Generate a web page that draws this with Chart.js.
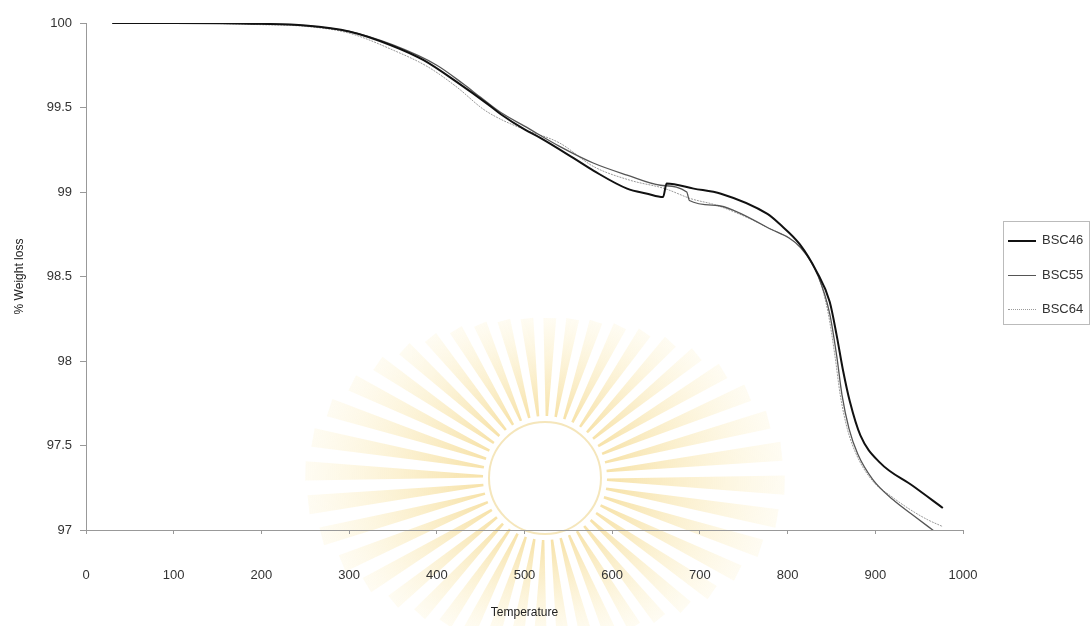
<!DOCTYPE html>
<html>
<head>
<meta charset="utf-8">
<script src="https://cdn.jsdelivr.net/npm/chart.js@4/dist/chart.umd.min.js"></script>
<style>
html, body { margin: 0; padding: 0; background: #fff; }
#contenedor { position: relative; width: 1092px; height: 626px; }
#leyenda { position: absolute; left: 1003px; top: 221px; width: 87px; height: 104px; border: 1px solid #bbb; box-sizing: border-box; font-family: "Liberation Sans", Arial, sans-serif; font-size: 13px; color: #333; }
#leyenda ul { list-style: none; margin: 0; padding: 0; }
#leyenda li { position: absolute; left: 4px; height: 16px; line-height: 16px; white-space: nowrap; }
#leyenda li span { display: inline-block; width: 28px; height: 0; vertical-align: middle; margin-right: 6px; }
</style>
</head>
<body>
<div id="contenedor">
  <canvas id="grafica" width="1092" height="626"></canvas>
  <div id="leyenda"></div>
</div>
<script>
var series = ["BSC46", "BSC55", "BSC64"];

var temp46 = [30, 100, 200, 250, 300, 347, 385, 423, 458, 473, 500, 518, 556, 579, 617, 640, 658, 662, 693, 724, 777, 791, 814, 833, 848, 856, 863, 871, 883, 905, 943, 977];
var bsc46 = [100, 100, 99.995, 99.985, 99.95, 99.87, 99.78, 99.65, 99.52, 99.46, 99.37, 99.32, 99.2, 99.125, 99.02, 98.99, 98.97, 99.05, 99.02, 98.99, 98.87, 98.81, 98.69, 98.53, 98.35, 98.15, 97.95, 97.76, 97.56, 97.4, 97.26, 97.13];

var temp55 = [30, 100, 200, 250, 300, 350, 400, 430, 450, 473, 500, 540, 579, 617, 655, 685, 688, 720, 739, 777, 815, 835, 848, 856, 862, 870, 880, 897, 920, 945, 968];
var bsc55 = [100, 100, 99.995, 99.985, 99.95, 99.87, 99.75, 99.64, 99.56, 99.47, 99.39, 99.27, 99.17, 99.1, 99.04, 99.0, 98.95, 98.92, 98.89, 98.79, 98.67, 98.5, 98.28, 98.03, 97.8, 97.6, 97.45, 97.3, 97.18, 97.08, 96.99];

var temp64 = [30, 100, 200, 250, 300, 350, 390, 423, 453, 473, 500, 540, 579, 620, 660, 690, 720, 777, 815, 835, 846, 854, 860, 868, 879, 897, 918, 940, 960, 977];
var bsc64 = [100, 100, 99.99, 99.98, 99.94, 99.84, 99.74, 99.62, 99.49, 99.43, 99.37, 99.29, 99.15, 99.07, 99.02, 98.96, 98.92, 98.79, 98.67, 98.5, 98.29, 98.03, 97.8, 97.6, 97.44, 97.29, 97.2, 97.12, 97.06, 97.02];

var xTicks = [0, 100, 200, 300, 400, 500, 600, 700, 800, 900, 1000];
var yTicks = [97, 97.5, 98, 98.5, 99, 99.5, 100];

function puntos(xs, ys) {
    var p = [];
    for (var i = 0; i < xs.length; i++) p.push({ x: xs[i], y: ys[i] });
    return p;
}

var estilos = [
    { color: "#111", ancho: 2, dash: [] },
    { color: "#555", ancho: 1.3, dash: [] },
    { color: "#9a9a9a", ancho: 1, dash: [2, 1] }
];
var datos = [puntos(temp46, bsc46), puntos(temp55, bsc55), puntos(temp64, bsc64)];

var conjuntos = series.map(function (nombre, i) {
    return {
        label: nombre,
        data: datos[i],
        borderColor: estilos[i].color,
        borderWidth: estilos[i].ancho,
        borderDash: estilos[i].dash,
        pointRadius: 0,
        cubicInterpolationMode: "monotone",
        fill: false
    };
});

// sello de fondo (marca de agua)
var marcaAgua = {
    id: "marcaAgua",
    beforeDraw: function (chart) {
        var c = chart.ctx;
        var cx = 545, cy = 478;
        c.save();
        var n = 44;
        for (var i = 0; i < n; i++) {
            var a = (i / n) * 2 * Math.PI + 0.03;
            var rx = 240, ry = 160;
            var r1 = 1 / Math.sqrt(Math.pow(Math.cos(a) / rx, 2) + Math.pow(Math.sin(a) / ry, 2));
            var g = c.createRadialGradient(cx, cy, 60, cx, cy, r1);
            g.addColorStop(0, "rgba(238, 196, 80, 0.5)");
            g.addColorStop(1, "rgba(250, 228, 150, 0.12)");
            c.fillStyle = g;
            c.beginPath();
            c.moveTo(cx + 62 * Math.cos(a - 0.02), cy + 62 * Math.sin(a - 0.02));
            c.lineTo(cx + r1 * Math.cos(a - 0.04), cy + r1 * Math.sin(a - 0.04));
            c.lineTo(cx + r1 * Math.cos(a + 0.04), cy + r1 * Math.sin(a + 0.04));
            c.lineTo(cx + 62 * Math.cos(a + 0.02), cy + 62 * Math.sin(a + 0.02));
            c.closePath();
            c.fill();
        }
        c.strokeStyle = "rgba(235, 205, 120, 0.5)";
        c.lineWidth = 2;
        c.beginPath();
        c.arc(cx, cy, 56, 0, 2 * Math.PI);
        c.stroke();
        c.restore();
    }
};

Chart.defaults.font.family = '"Liberation Sans", Arial, sans-serif';
Chart.defaults.color = "#333";

var grafica = new Chart(document.getElementById("grafica"), {
    type: "line",
    data: { datasets: conjuntos },
    plugins: [marcaAgua],
    options: {
        responsive: false,
        animation: false,
        layout: { padding: { top: 23, right: 129, left: 0, bottom: 0 } },
        plugins: { legend: { display: false }, tooltip: { enabled: false } },
        scales: {
            x: {
                type: "linear",
                min: 0,
                max: 1000,
                afterFit: function (s) { s.height = 96; },
                afterBuildTicks: function (s) { s.ticks = xTicks.map(function (v) { return { value: v }; }); },
                grid: { drawOnChartArea: false, tickLength: 4, color: "#999" },
                border: { color: "#999", width: 1 },
                ticks: { padding: 34, maxRotation: 0, font: { size: 13 }, color: "#333", callback: function (v) { return String(v); } },
                title: { display: true, text: "Temperature", font: { size: 12 }, color: "#222", padding: { top: 0, bottom: 6 } }
            },
            y: {
                min: 97,
                max: 100,
                afterFit: function (s) { s.width = 86; },
                afterBuildTicks: function (s) { s.ticks = yTicks.map(function (v) { return { value: v }; }); },
                grid: { drawOnChartArea: false, tickLength: 6, color: "#999" },
                border: { color: "#999", width: 1 },
                ticks: { padding: 8, font: { size: 13 }, color: "#333", callback: function (v) { return String(v); } },
                title: { display: true, text: "% Weight loss", font: { size: 12 }, color: "#222", padding: { top: 12, bottom: 0 } }
            }
        }
    }
});

// leyenda con caja, como en la hoja original
function ponerLeyenda(id) {
    var html = "<ul>";
    for (var i = 0; i < series.length; i++) {
        var borde = estilos[i].dash.length ? "dotted" : "solid";
        html += "<li style='top:" + (10 + i * 34.5) + "px'><span style='border-top:" + Math.max(1, Math.round(estilos[i].ancho)) + "px " + borde + " " + estilos[i].color + "'></span>" + series[i] + "</li>";
    }
    html += "</ul>";
    document.getElementById(id).innerHTML = html;
}
ponerLeyenda("leyenda");
</script>
</body>
</html>
